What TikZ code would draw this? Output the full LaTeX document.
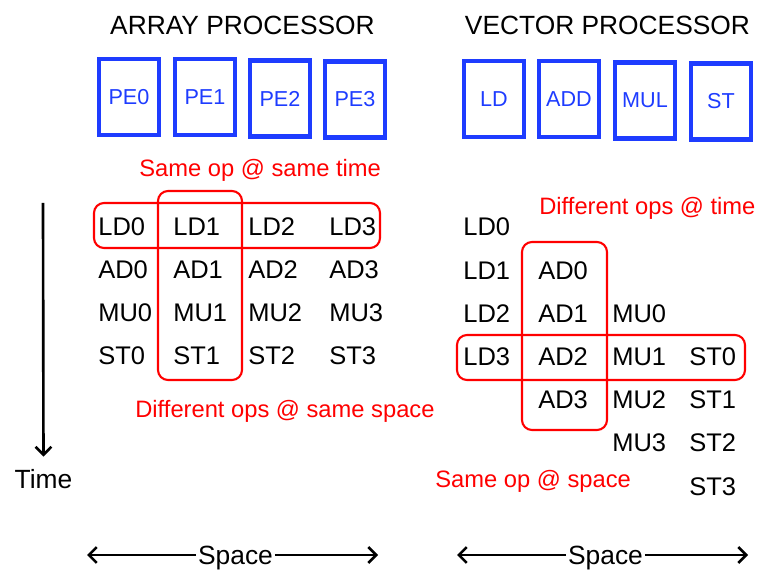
\documentclass[tikz,border=0pt]{standalone}
\usepackage{fontspec}
\setmainfont{Liberation Sans}
\usetikzlibrary{arrows.meta}
\definecolor{peblue}{RGB}{30,60,255}
\definecolor{opred}{RGB}{255,0,0}

\tikzset{
  unit/.style={draw=peblue,line width=2.3pt,text=peblue,minimum width=1.2cm,minimum height=1.52cm,inner sep=0pt,font=\fontsize{12.3}{14}\selectfont},
  instr/.style={anchor=base west,inner sep=0pt,font=\fontsize{14.5}{17}\selectfont},
  note/.style={anchor=base west,inner sep=0pt,text=opred,font=\fontsize{13.5}{16}\selectfont},
  title/.style={anchor=base,inner sep=0pt,font=\fontsize{15}{18}\selectfont},
  hilite/.style={draw=opred,line width=1.2pt,rounded corners=0.2cm},
  timeline/.style={line width=1.5pt,-{Straight Barb[length=4.5pt,width=9pt]}}
}

\begin{document}
\begin{tikzpicture}[x=0.02cm,y=-0.02cm]
\useasboundingbox (0,0) rectangle (768,577);
% titles
\node[title] (arr-title) at (242.5,35) {ARRAY PROCESSOR};
\node[title] (vec-title) at (607.5,35) {VECTOR PROCESSOR};
% processing elements
\node[unit] (pe0) at (129,97) {PE0};
\node[unit] (pe1) at (205,97) {PE1};
\node[unit] (pe2) at (280,98.5) {PE2};
\node[unit] (pe3) at (355,99.5) {PE3};
% vector units
\node[unit] (u-ld) at (494,99) {LD};
\node[unit] (u-add) at (569,99) {ADD};
\node[unit] (u-mul) at (645,100.5) {MUL};
\node[unit] (u-st) at (721,101.5) {ST};
% array: same op in a row
\foreach \op/\r in {LD/236,AD/279,MU/322,ST/365}
  \foreach \k/\c in {0/98,1/173,2/248,3/329}
    \node[instr] (a-\op\k) at (\c,\r) {\op\k};
% vector: ops staggered in time
\foreach \op/\c [count=\j from 0] in {LD/463,AD/538,MU/612,ST/689}
  \foreach \k in {0,...,3}
    \node[instr] (v-\op\k) at (\c,{236+43.2*(\k+\j)}) {\op\k};
% highlights
\draw[hilite] (94,203) rectangle (380,248);
\draw[hilite] (158,191) rectangle (242,380);
\draw[hilite] (522,242) rectangle (607,430);
\draw[hilite] (457,335) rectangle (745,380);
\node[note] (n-sametime) at (139,177) {Same op @ same time};
\node[note] (n-samespace) at (135,418) {Different ops @ same space};
\node[note] (n-difftime) at (539,215) {Different ops @ time};
\node[note] (n-opspace) at (435,488) {Same op @ space};
% time axis
\coordinate (t-top) at (43,203);
\node[title] (time) at (43.5,489) {Time};
\draw[timeline,shorten >=7.4pt] (t-top) -- (time.north);
% space axes
\node[title,inner xsep=1pt] (sp-a) at (235.5,565) {Space};
\coordinate (sp-a-l) at (87,555);
\coordinate (sp-a-r) at (378,555);
\draw[timeline] (sp-a-l -| sp-a.west) -- (sp-a-l);
\draw[timeline] (sp-a-r -| sp-a.east) -- (sp-a-r);
\node[title,inner xsep=1pt] (sp-v) at (605.5,565) {Space};
\coordinate (sp-v-l) at (457,555);
\coordinate (sp-v-r) at (748,555);
\draw[timeline] (sp-v-l -| sp-v.west) -- (sp-v-l);
\draw[timeline] (sp-v-r -| sp-v.east) -- (sp-v-r);
\end{tikzpicture}
\end{document}
